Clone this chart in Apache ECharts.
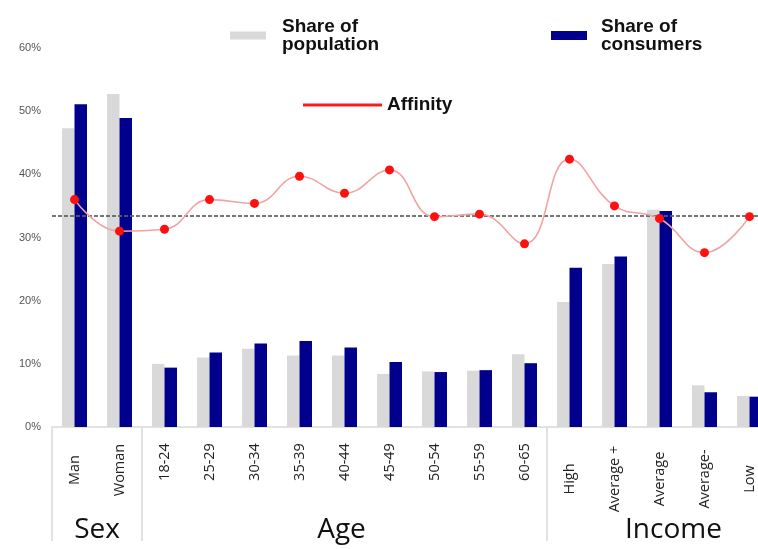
<!DOCTYPE html>
<html>
<head>
<meta charset="utf-8">
<script src="https://cdn.jsdelivr.net/npm/echarts@6/dist/echarts.min.js"></script>
<style>
  html, body { margin: 0; padding: 0; background: #ffffff; }
  #chart { width: 758px; height: 549px; }
</style>
</head>
<body>
<div id="chart"></div>
<script>
// Segments along the x axis
const categories = ['Man', 'Woman', '18-24', '25-29', '30-34', '35-39', '40-44', '45-49',
  '50-54', '55-59', '60-65', 'High', 'Average +', 'Average', 'Average-', 'Low'];
const groupNames = ['Sex', 'Age', 'Income'];
const groupSizes = [2, 9, 5];

// Shares in percent
const populationShare = [47.3, 52.7, 10.0, 11.0, 12.4, 11.3, 11.3, 8.4, 8.8, 8.9, 11.5, 19.8, 25.8, 34.4, 6.6, 4.9];
const consumerShare   = [51.1, 48.9, 9.4, 11.8, 13.2, 13.6, 12.6, 10.3, 8.7, 9.0, 10.1, 25.2, 27.0, 34.2, 5.5, 4.8];
const affinity        = [36.0, 31.0, 31.3, 36.0, 35.4, 39.7, 37.0, 40.7, 33.3, 33.7, 29.0, 42.4, 35.0, 33.0, 27.6, 33.3];
const affinityReference = 33.4;

// Value axis ticks
const yMin = 0, yMax = 60, yStep = 10;

const groupOfIndex = [];
groupSizes.forEach((n, g) => { for (let i = 0; i < n; i++) groupOfIndex.push(g); });

const chart = echarts.init(document.getElementById('chart'), null, { renderer: 'canvas' });

const legendText = {
  fontFamily: 'Liberation Sans, Arial, sans-serif',
  fontWeight: 'bold',
  fontSize: 19,
  lineHeight: 18,
  color: '#111'
};

const labelFont = { fontFamily: 'Open Sans, sans-serif', fontSize: 14.5, color: '#222' };

chart.setOption({
  animation: false,
  backgroundColor: '#ffffff',
  // the plot runs a little past the right edge of the canvas
  grid: { left: 52, width: 720, top: 48, bottom: 122, containLabel: false, outerBoundsMode: 'none' },
  legend: [
    {
      data: ['Share of population'], left: 225, top: 12, itemWidth: 36, itemHeight: 8,
      icon: 'rect', formatter: () => 'Share of\npopulation',
      textStyle: Object.assign({ padding: [0, 0, 0, 11] }, legendText)
    },
    {
      data: ['Share of consumers'], left: 546, top: 12, itemWidth: 36, itemHeight: 9,
      icon: 'rect', formatter: () => 'Share of\nconsumers',
      textStyle: Object.assign({ padding: [0, 0, 0, 9] }, legendText)
    },
    {
      data: [{ name: 'Affinity', icon: 'rect', itemStyle: { color: '#ff1a1a' } }],
      left: 298, top: 90, itemWidth: 79, itemHeight: 3,
      textStyle: Object.assign({}, legendText, { lineHeight: 20 })
    }
  ],
  xAxis: {
    type: 'category',
    data: categories,
    axisLine: { show: true, lineStyle: { color: '#d9d9d9', width: 1.5 } },
    axisTick: { show: false },
    axisLabel: {
      interval: 0,
      rotate: 90,
      align: 'center',
      verticalAlign: 'middle',
      margin: 43,
      formatter: (value, index) => '{g' + groupOfIndex[index] + '|' + value + '}',
      rich: {
        g0: Object.assign({}, labelFont),
        g1: Object.assign({ padding: [0, 0, 0, 16] }, labelFont),
        g2: Object.assign({ padding: [0, 18, 0, 0] }, labelFont)
      }
    }
  },
  yAxis: {
    type: 'value',
    min: yMin, max: yMax, interval: yStep,
    axisLine: { show: false },
    axisTick: { show: false },
    splitLine: { show: false },
    axisLabel: {
      formatter: '{value}%',
      margin: 11,
      fontFamily: 'Liberation Sans, Arial, sans-serif',
      fontSize: 11,
      color: '#555555'
    }
  },
  series: [
    {
      name: 'Share of population', type: 'bar', data: populationShare,
      barWidth: 12.5, barGap: '0%',
      itemStyle: { color: '#d9d9d9' }, z: 2
    },
    {
      name: 'Share of consumers', type: 'bar', data: consumerShare,
      barWidth: 12.5, barGap: '0%',
      itemStyle: { color: '#00008c' }, z: 2,
      markLine: {
        silent: true, symbol: 'none', label: { show: false },
        lineStyle: { color: '#5e5e5e', width: 1.8, type: [4, 2], opacity: 0.85 },
        data: [{ yAxis: affinityReference }],
        z: 3
      }
    },
    {
      name: 'Affinity', type: 'line', data: affinity, smooth: 0.45,
      symbol: 'circle', symbolSize: 9,
      lineStyle: { color: '#f2a2a2', width: 1.6 },
      itemStyle: { color: '#ff1010' },
      z: 5
    }
  ]
});

// Group separators and group titles under the category labels
function drawGroups() {
  const px = i => chart.convertToPixel({ xAxisIndex: 0 }, i);
  const y0 = chart.convertToPixel({ yAxisIndex: 0 }, 0);
  const step = px(1) - px(0);
  const graphics = [];
  const groupLabelNudge = [0, -3, 14];
  let start = 0;
  groupSizes.forEach((n, g) => {
    const left = px(start) - step / 2;
    const right = px(start + n - 1) + step / 2;
    graphics.push({
      type: 'line', silent: true,
      shape: { x1: left, y1: y0, x2: left, y2: y0 + 114 },
      style: { stroke: '#d9d9d9', lineWidth: 1.5 }
    });
    graphics.push({
      type: 'text', silent: true,
      x: (left + right) / 2 + groupLabelNudge[g], y: y0 + 103,
      style: {
        text: groupNames[g], fontFamily: 'Open Sans, sans-serif', fontSize: 28,
        fill: '#111', align: 'center', verticalAlign: 'middle'
      }
    });
    start += n;
  });
  chart.setOption({ graphic: graphics });
}
drawGroups();
</script>
</body>
</html>
